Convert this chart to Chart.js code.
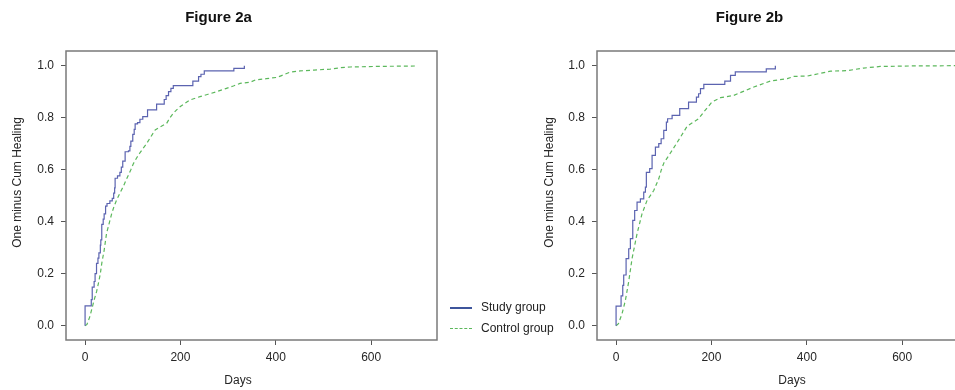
<!DOCTYPE html>
<html>
<head>
<meta charset="utf-8">
<script src="https://cdn.jsdelivr.net/npm/chart.js@4.4.1/dist/chart.umd.min.js"></script>
<style>
  body { margin: 0; background: #fff; width: 955px; height: 390px; overflow: hidden; position: relative; font-family: Arial, "Liberation Sans", sans-serif; }
  #chartA { position: absolute; left: 0; top: 0; }
  #chartB { position: absolute; left: 531px; top: 0; }
  .legend { position: absolute; left: 450px; font-size: 12px; color: #222; }
  .legend .row { position: absolute; left: 0; white-space: nowrap; height: 14px; line-height: 14px; }
  .legend .swatch { position: absolute; left: 0; top: 7px; width: 22px; }
  .legend .label { position: absolute; left: 31px; top: 0; }
</style>
</head>
<body>
<canvas id="chartA" width="488" height="390"></canvas>
<canvas id="chartB" width="484" height="390"></canvas>
<div class="legend" style="top:0">
  <div class="row" style="top:300px"><div class="swatch" style="border-top:2px solid #3d559c"></div><span class="label">Study group</span></div>
  <div class="row" style="top:321px"><div class="swatch" style="border-top:1px dashed #5cb85c"></div><span class="label">Control group</span></div>
</div>
<script>
// tick labels
const xTicks = [0, 200, 400, 600];
const yTicks = [0, 0.2, 0.4, 0.6, 0.8, 1.0];

// Figure 2a - study group (Kaplan-Meier steps)
const studyDaysA = [0, 0, 13, 15, 19, 21, 24, 27, 29, 32, 33, 35, 38, 40, 43, 46, 52, 57, 60, 62, 63, 68, 73, 76, 79, 84, 91, 94, 96, 100, 103, 105, 110, 115, 121, 131, 150, 166, 170, 175, 180, 185, 226, 238, 243, 250, 312, 334];
const studyValsA = [0, 0.076, 0.10, 0.148, 0.17, 0.20, 0.24, 0.26, 0.28, 0.31, 0.33, 0.39, 0.41, 0.43, 0.46, 0.47, 0.48, 0.49, 0.51, 0.53, 0.567, 0.576, 0.59, 0.61, 0.633, 0.669, 0.672, 0.69, 0.71, 0.736, 0.755, 0.776, 0.781, 0.794, 0.804, 0.83, 0.852, 0.87, 0.885, 0.90, 0.913, 0.923, 0.941, 0.958, 0.967, 0.98, 0.99, 1.0];

// Figure 2a - control group
const controlDaysA = [0, 4, 10, 15, 19, 24, 28, 32, 35, 40, 45, 50, 56, 61, 66, 73, 80, 86, 91, 96, 101, 108, 115, 122, 129, 138, 147, 160, 171, 178, 185, 192, 199, 210, 220, 241, 258, 276, 295, 311, 325, 346, 357, 380, 402, 412, 430, 451, 480, 514, 535, 556, 605, 650, 697];
const controlValsA = [0, 0.005, 0.035, 0.07, 0.099, 0.13, 0.163, 0.20, 0.24, 0.29, 0.355, 0.39, 0.432, 0.46, 0.483, 0.51, 0.535, 0.56, 0.58, 0.60, 0.622, 0.645, 0.665, 0.683, 0.70, 0.727, 0.753, 0.767, 0.778, 0.80, 0.817, 0.83, 0.842, 0.856, 0.868, 0.881, 0.89, 0.90, 0.912, 0.922, 0.932, 0.936, 0.945, 0.95, 0.955, 0.962, 0.975, 0.98, 0.983, 0.987, 0.992, 0.995, 0.997, 0.998, 0.999];

// Figure 2b - study group
const studyDaysB = [0, 0, 10.5, 14, 16, 21, 26.5, 30, 35, 39, 44, 51, 58, 61.5, 63.5, 70.5, 75.5, 82.5, 89.5, 94.5, 100, 105.5, 108, 117.5, 133.5, 152, 168.5, 173, 177, 184, 228, 240, 250, 315, 334];
const studyValsB = [0, 0.075, 0.115, 0.155, 0.195, 0.258, 0.296, 0.335, 0.405, 0.443, 0.475, 0.488, 0.514, 0.533, 0.59, 0.604, 0.655, 0.687, 0.70, 0.719, 0.751, 0.783, 0.796, 0.809, 0.835, 0.86, 0.879, 0.892, 0.912, 0.928, 0.941, 0.963, 0.976, 0.988, 1.0];

// Figure 2b - control group
const controlDaysB = [0, 5, 12.5, 19.5, 26.5, 33.5, 44, 54.5, 65, 79, 89.5, 95, 100, 117.5, 135, 149, 173, 184, 201, 219, 247, 289, 324, 359, 373, 401, 450, 485, 519, 554, 620, 712, 760];
const controlValsB = [0, 0.008, 0.046, 0.097, 0.17, 0.258, 0.354, 0.431, 0.482, 0.52, 0.565, 0.6, 0.625, 0.674, 0.725, 0.767, 0.796, 0.822, 0.86, 0.877, 0.886, 0.918, 0.941, 0.95, 0.959, 0.96, 0.979, 0.981, 0.991, 0.997, 0.999, 1.0, 1.0];

const toPoints = (xs, ys) => xs.map((x, i) => ({ x: x, y: ys[i] }));

const frameColor = '#7a7a7a';
const textColor = '#262626';

// grey box round the plot area
const framePlugin = {
  id: 'frame',
  afterDraw(chart) {
    const { ctx, chartArea: a } = chart;
    ctx.save();
    ctx.strokeStyle = frameColor;
    ctx.lineWidth = 1.5;
    ctx.strokeRect(a.left, a.top, a.right - a.left, a.bottom - a.top);
    ctx.restore();
  }
};

// axis titles, placed like the original (not centred on the plot)
const axisTitlePlugin = {
  id: 'axisTitles',
  afterDraw(chart, args, opts) {
    const ctx = chart.ctx;
    ctx.save();
    ctx.fillStyle = textColor;
    ctx.font = '12px Arial, "Liberation Sans", sans-serif';
    ctx.textAlign = 'center';
    ctx.textBaseline = 'middle';
    ctx.fillText(opts.xText, opts.xPos[0], opts.xPos[1]);
    ctx.translate(opts.yPos[0], opts.yPos[1]);
    ctx.rotate(-Math.PI / 2);
    ctx.fillText(opts.yText, 0, 0);
    ctx.restore();
  }
};

function makeChart(id, title, study, control, xPos, yPos) {
  const tickFont = { family: 'Arial, "Liberation Sans", sans-serif', size: 12 };
  return new Chart(document.getElementById(id), {
    type: 'line',
    data: {
      datasets: [
        {
          label: 'Study group',
          data: study,
          stepped: true,
          borderColor: '#5b63b0',
          borderWidth: 1.2,
          pointRadius: 0,
          fill: false
        },
        {
          label: 'Control group',
          data: control,
          borderColor: '#5cb85c',
          borderWidth: 1.2,
          borderDash: [4, 3],
          pointRadius: 0,
          tension: 0,
          fill: false
        }
      ]
    },
    options: {
      responsive: false,
      animation: false,
      layout: { padding: { left: 0, right: id === 'chartA' ? 51 : 47, top: 0, bottom: 0 } },
      plugins: {
        legend: { display: false },
        tooltip: { enabled: false },
        title: {
          display: true,
          text: title,
          color: '#111',
          font: { family: 'Arial, "Liberation Sans", sans-serif', size: 15, weight: 'bold' },
          padding: { top: 9, bottom: 24 }
        },
        axisTitles: { xText: 'Days', yText: 'One minus Cum Healing', xPos: xPos, yPos: yPos }
      },
      scales: {
        x: {
          type: 'linear',
          min: -40,
          max: 738,
          afterBuildTicks: s => { s.ticks = xTicks.map(v => ({ value: v })); },
          afterFit: s => { s.height = 50; },
          ticks: { font: tickFont, color: textColor, padding: 5, maxRotation: 0 },
          grid: { drawOnChartArea: false, drawTicks: true, tickLength: 5, color: '#555' },
          border: { display: false }
        },
        y: {
          type: 'linear',
          min: -0.055,
          max: 1.0565,
          afterBuildTicks: s => { s.ticks = yTicks.map(v => ({ value: v })); },
          afterFit: s => { s.width = 66; },
          ticks: { font: tickFont, color: textColor, padding: 7, callback: v => v.toFixed(1) },
          grid: { drawOnChartArea: false, drawTicks: true, tickLength: 5, color: '#555' },
          border: { display: false }
        }
      }
    },
    plugins: [framePlugin, axisTitlePlugin]
  });
}

makeChart('chartA', 'Figure 2a', toPoints(studyDaysA, studyValsA), toPoints(controlDaysA, controlValsA), [238, 381], [18, 182.5]);
makeChart('chartB', 'Figure 2b', toPoints(studyDaysB, studyValsB), toPoints(controlDaysB, controlValsB), [261, 381], [19, 182.5]);
</script>
</body>
</html>
